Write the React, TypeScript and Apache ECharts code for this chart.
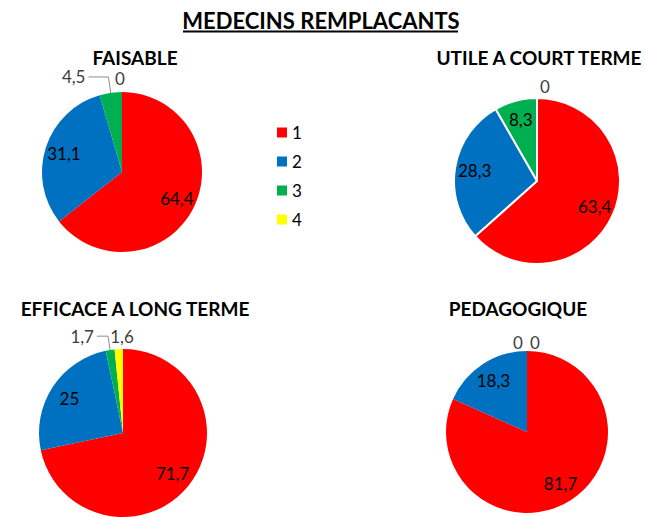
import React, { useEffect, useRef } from 'react';
import * as echarts from 'echarts';

// ---- data ----
const categories = ['1', '2', '3', '4'];
const faisable = [64.4, 31.1, 4.5, 0];
const utileCourtTerme = [63.4, 28.3, 8.3, 0];
const efficaceLongTerme = [71.7, 25, 1.7, 1.6];
const pedagogique = [81.7, 18.3, 0, 0];
const pieTitles = ['FAISABLE', 'UTILE A COURT TERME', 'EFFICACE A LONG TERME', 'PEDAGOGIQUE'];
const mainTitle = 'MEDECINS REMPLACANTS';

const pieValues = [faisable, utileCourtTerme, efficaceLongTerme, pedagogique];

// ---- styles / layout ----
const palette = ['#FF0000', '#0070C0', '#00B050', '#FFFF00'];
const FONT = 'Lato, "Liberation Sans", sans-serif';

type PieLayout = {
  cx: number; cy: number; r: number; titleX: number; titleY: number;
  border: number; len: number; len2: number;
  free: Record<number, [number, number]>;
};

const layouts: PieLayout[] = [
  { cx: 122, cy: 172, r: 80, titleX: 135, titleY: 57.5, border: 0, len: 16, len2: 20, free: { 3: [-2, -14] } },
  { cx: 537, cy: 181, r: 83, titleX: 539, titleY: 57.5, border: 2, len: 10, len2: 10, free: { 3: [8, -12] } },
  { cx: 123, cy: 433, r: 84, titleX: 135, titleY: 308.5, border: 0, len: 14, len2: 11, free: { 3: [-1, -13] } },
  { cx: 527, cy: 432, r: 81, titleX: 518, titleY: 308.5, border: 0, len: 10, len2: 10, free: { 2: [-9, -9], 3: [8, -9] } },
];

const fmt = (p: any) => String(p.value).replace('.', ',');

export default function App() {
  const ref = useRef<HTMLDivElement>(null);

  useEffect(() => {
    if (!ref.current) return;
    const chart = echarts.init(ref.current, null, { renderer: 'svg' });

    const mainSeries: any[] = [];
    const labelSeries: any[] = [];

    pieValues.forEach((vals, i) => {
      const L = layouts[i];
      mainSeries.push({
        type: 'pie',
        name: pieTitles[i],
        center: [L.cx, L.cy],
        radius: [0, L.r],
        startAngle: 90,
        clockwise: true,
        avoidLabelOverlap: false,
        silent: true,
        emphasis: { disabled: true },
        itemStyle: { borderColor: '#fff', borderWidth: L.border },
        label: {
          position: 'outside',
          formatter: fmt,
          color: '#404040',
          fontSize: 17,
          fontFamily: FONT,
          distanceToLabelLine: 3,
        },
        labelLine: {
          length: L.len,
          length2: L.len2,
          lineStyle: { color: '#8c8c8c', width: 1 },
        },
        labelLayout: (p: any) => {
          const o = L.free[p.dataIndex];
          if (!o) return {};
          return { x: L.cx + o[0], y: L.cy - L.r + o[1], align: 'center', verticalAlign: 'middle' };
        },
        data: vals.map((v, k) => ({
          name: categories[k],
          value: v,
          label: { show: v < 5 },
          labelLine: { show: v < 5 && !L.free[k] },
        })),
      });
      labelSeries.push({
        type: 'pie',
        name: pieTitles[i] + ' labels',
        center: [L.cx, L.cy],
        radius: [L.r * 0.45, L.r],
        startAngle: 90,
        clockwise: true,
        avoidLabelOverlap: false,
        silent: true,
        emphasis: { disabled: true },
        itemStyle: { color: 'rgba(0,0,0,0)', borderWidth: 0 },
        label: {
          position: 'inside',
          formatter: fmt,
          color: '#000',
          fontSize: 17,
          fontFamily: FONT,
        },
        labelLine: { show: false },
        data: vals.map((v, k) => ({
          name: categories[k],
          value: v,
          label: { show: v >= 5 },
        })),
      });
    });

    const graphics: any[] = [
      {
        type: 'text',
        x: 321,
        y: 20,
        style: { text: mainTitle, fontSize: 22, fontWeight: 'bold', fontFamily: FONT, fill: '#000', align: 'center', verticalAlign: 'middle' },
      },
      {
        type: 'line',
        shape: { x1: 183, y1: 31.5, x2: 458, y2: 31.5 },
        style: { stroke: '#000', lineWidth: 1.8 },
      },
      ...layouts.map((L, i) => ({
        type: 'text',
        x: L.titleX,
        y: L.titleY,
        style: { text: pieTitles[i], fontSize: 19, fontWeight: 'bold', fontFamily: FONT, fill: '#000', align: 'center', verticalAlign: 'middle' },
      })),
    ];

    chart.setOption({
      animation: false,
      backgroundColor: '#fff',
      color: palette,
      legend: {
        orient: 'vertical',
        left: 272,
        top: 119,
        itemWidth: 10,
        itemHeight: 10,
        itemGap: 12,
        icon: 'rect',
        selectedMode: false,
        data: categories,
        textStyle: { fontSize: 17, lineHeight: 17, color: '#000', fontFamily: FONT },
      },
      graphic: graphics,
      series: [...mainSeries, ...labelSeries],
    });

    return () => chart.dispose();
  }, []);

  return (
    <div
      ref={ref}
      style={{ position: 'absolute', left: 0, top: 0, width: 645, height: 517, background: '#fff' }}
    />
  );
}
